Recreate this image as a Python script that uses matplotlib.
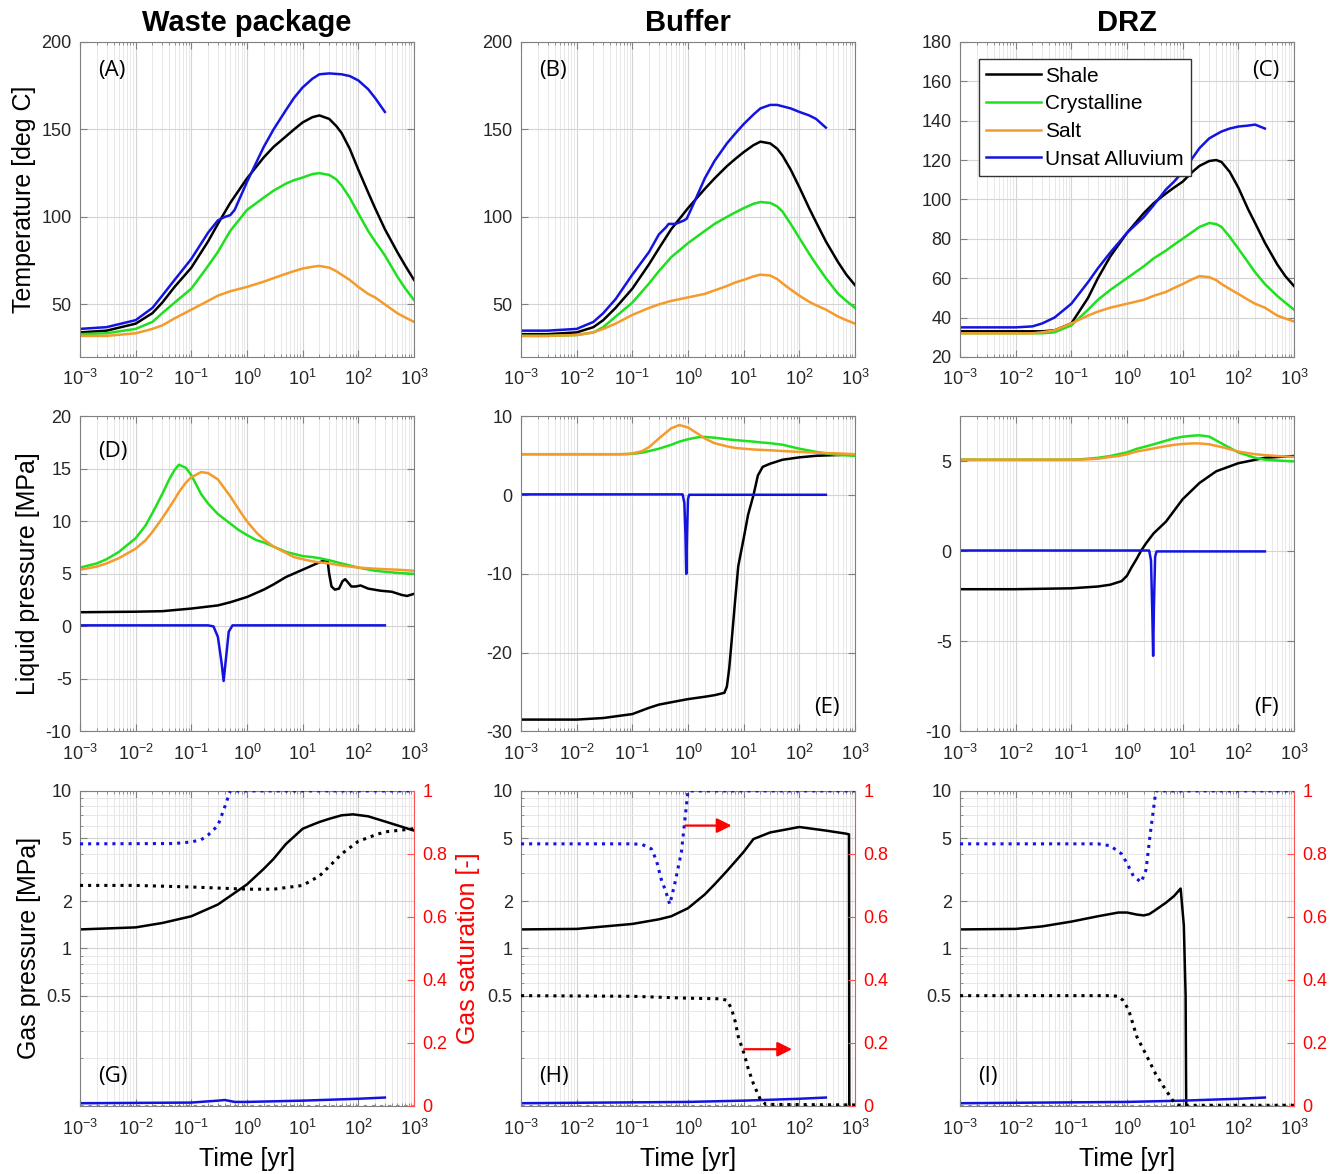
import matplotlib.pyplot as plt
from matplotlib.ticker import FixedLocator, LogLocator, LogFormatterMathtext, NullFormatter, FixedFormatter

plt.rcParams['font.family'] = ['Liberation Sans', 'DejaVu Sans']
plt.rcParams['axes.unicode_minus'] = False

# ---------------- data ----------------
COLS = ['Waste package', 'Buffer', 'DRZ']
XTICKS = [1e-3, 1e-2, 1e-1, 1e0, 1e1, 1e2, 1e3]

# row 1: temperature [deg C]
T1 = [1e-3, 3e-3, 1e-2, 2e-2, 3e-2, 5e-2, 0.1, 0.2, 0.3, 0.5, 1, 2, 3, 5, 7, 10, 15, 20, 30, 40, 50, 70,
      100, 150, 200, 300, 500, 700, 1000]

A_SHALE = [34, 35, 39, 45, 51, 60, 71, 86, 96, 108, 122, 134, 140, 146, 150, 154, 157, 158, 156, 152, 148, 139,
           127, 114, 105, 93, 80, 72, 64]
A_CRYST = [33, 33.5, 36, 40, 45, 51, 59, 72, 80, 92, 104, 111, 115, 119, 121, 122.5, 124.5, 125, 124, 121.5,
           118, 111, 102, 92, 86, 78, 66, 59, 52.5]
A_SALT = [32, 32, 33.5, 36, 38, 42, 47, 52, 55, 57.5, 60, 63, 65, 67.5, 69, 70.5, 71.5, 72, 71, 69, 67, 64, 60,
          56, 54, 50, 45, 42.5, 40]
A_T_ALLU = [1e-3, 3e-3, 1e-2, 2e-2, 3e-2, 5e-2, 0.1, 0.2, 0.3, 0.4, 0.5, 0.6, 1, 2, 3, 5, 7, 10, 15, 20, 30, 50,
            70, 100, 150, 200, 300]
A_ALLU = [36, 37, 41, 48, 55, 64, 76, 91, 98, 100, 101, 104, 120, 140, 150, 161, 168, 174, 179, 181.5, 182,
          181.5, 180.5, 178, 173, 168, 160]

B_SHALE = [33, 33, 34, 37, 41, 48, 59, 73, 82, 93, 105, 116, 122, 129, 133, 137, 141, 143, 142, 139, 135, 127,
           117, 105, 97, 86, 74, 67, 61]
B_CRYST = [32, 32, 32.5, 34, 37, 43, 51, 62, 69, 77, 85, 92, 96, 100, 102.5, 105, 107.5, 108.5, 108, 106, 103,
           96, 88, 79, 73, 65, 56, 52, 48]
B_SALT = [32, 32, 32.5, 34, 36, 39, 44, 48, 50, 52, 54, 56, 58, 60.5, 62.5, 64, 66, 67, 66.5, 64.5, 62, 58.5,
          55, 51.5, 49.5, 47, 43, 41, 39]
B_T_ALLU = [1e-3, 3e-3, 1e-2, 2e-2, 3e-2, 5e-2, 0.1, 0.2, 0.3, 0.4, 0.45, 0.6, 0.85, 0.95, 1.2, 2, 3, 5, 7, 10,
            15, 20, 30, 40, 70, 100, 150, 200, 300]
B_ALLU = [35, 35, 36, 40, 45, 53, 67, 80, 90, 94, 96, 96, 98, 99, 106, 122, 132, 142, 147.5, 153, 158.5, 162,
          164, 164, 162, 160, 158, 156, 151]

C_SHALE = [33, 33, 33, 33, 33, 33.5, 37, 50, 60, 71, 83, 93, 98, 103, 106, 109, 114, 117, 119.5, 120, 119, 114,
           106, 95, 88, 78, 67, 61, 56]
C_CRYST = [32, 32, 32, 32, 32, 32.5, 36, 44, 49, 54, 60, 66, 70, 74, 77, 80, 83.5, 86, 88, 87.5, 86, 81, 75, 68,
           63, 57, 51, 47.5, 44]
C_SALT = [32, 32, 32, 32, 32.5, 33.5, 37, 41, 43, 45, 47, 49, 51, 53, 55, 57, 59.5, 61, 60.5, 59, 57, 54.5, 52,
          49, 47, 45, 41, 39.5, 38]
C_T_ALLU = [1e-3, 3e-3, 1e-2, 2e-2, 3e-2, 5e-2, 0.1, 0.2, 0.3, 0.5, 1, 2, 3, 5, 7, 10, 15, 20, 30, 40, 50, 70,
            100, 150, 200, 300]
C_ALLU = [35, 35, 35, 35.5, 37, 40, 47, 58, 65, 73, 83, 91, 97, 105, 109, 114, 121, 126, 131, 133, 134.5, 136,
          137, 137.5, 138, 136]

# row 2: liquid pressure [MPa]
T2 = [1e-3, 2e-3, 3e-3, 5e-3, 1e-2, 1.5e-2, 2e-2, 3e-2, 4e-2, 5e-2, 6e-2, 8e-2, 0.1, 0.15, 0.2, 0.3, 0.5, 0.7,
      1, 1.5, 2, 3, 5, 7, 10, 15, 20, 30, 50, 100, 200, 300, 500, 1000]

D_CRYST = [5.6, 6.0, 6.4, 7.1, 8.4, 9.6, 10.8, 12.6, 14.0, 14.9, 15.4, 15.1, 14.4, 12.6, 11.7, 10.7, 9.8, 9.2,
           8.7, 8.2, 8.0, 7.6, 7.1, 6.9, 6.7, 6.6, 6.5, 6.3, 6.0, 5.6, 5.3, 5.2, 5.1, 5.0]
D_SALT = [5.4, 5.7, 6.0, 6.5, 7.4, 8.2, 9.0, 10.3, 11.3, 12.1, 12.8, 13.7, 14.2, 14.7, 14.6, 14.0, 12.4, 11.2,
          10.0, 8.9, 8.3, 7.6, 7.0, 6.6, 6.4, 6.2, 6.1, 6.0, 5.8, 5.6, 5.5, 5.45, 5.4, 5.3]
D_T_SHALE = [1e-3, 1e-2, 3e-2, 0.1, 0.3, 0.5, 1, 2, 3, 5, 10, 20, 25, 28, 30, 33, 38, 45, 52, 58, 65, 75, 90,
             110, 150, 250, 400, 600, 750, 1000]
D_SHALE = [1.35, 1.4, 1.45, 1.7, 2.0, 2.3, 2.8, 3.5, 4.0, 4.7, 5.4, 6.1, 6.3, 6.25, 5.0, 3.8, 3.5, 3.6, 4.3, 4.5,
           4.2, 3.8, 3.8, 3.9, 3.6, 3.4, 3.3, 3.0, 2.9, 3.1]
D_T_ALLU = [1e-3, 0.2, 0.25, 0.3, 0.35, 0.38, 0.42, 0.47, 0.55, 300]
D_ALLU = [0.1, 0.1, 0.0, -1.0, -3.5, -5.2, -3.0, -0.5, 0.1, 0.1]

E_CRYST = [5.2, 5.2, 5.2, 5.2, 5.2, 5.2, 5.2, 5.2, 5.2, 5.2, 5.2, 5.22, 5.25, 5.4, 5.6, 5.9, 6.4, 6.8, 7.1,
           7.35, 7.4, 7.3, 7.1, 7.0, 6.9, 6.8, 6.7, 6.6, 6.4, 5.9, 5.5, 5.3, 5.1, 5.0]
E_SALT = [5.2, 5.2, 5.2, 5.2, 5.2, 5.2, 5.2, 5.2, 5.2, 5.2, 5.2, 5.22, 5.3, 5.6, 6.1, 7.2, 8.5, 8.9, 8.6, 7.8,
          7.2, 6.6, 6.2, 6.0, 5.9, 5.8, 5.75, 5.7, 5.6, 5.5, 5.4, 5.35, 5.3, 5.2]
E_T_SHALE = [1e-3, 1e-2, 3e-2, 0.1, 0.2, 0.3, 0.5, 1, 2, 3, 4.5, 5, 5.5, 6, 7, 8, 10, 12, 15, 18, 22, 30, 50,
             100, 200, 500, 1000]
E_SHALE = [-28.5, -28.5, -28.3, -27.8, -27.0, -26.6, -26.3, -25.9, -25.6, -25.4, -25.1, -24.3, -22, -19, -13.5,
           -9, -5.5, -2.5, 0, 2.5, 3.6, 4.0, 4.5, 4.8, 5.0, 5.1, 5.2]
E_T_ALLU = [1e-3, 0.8, 0.86, 0.9, 0.93, 0.96, 1.0, 1.05, 300]
E_ALLU = [0.1, 0.1, -1, -5, -10, -5, -0.5, 0.05, 0.05]

F_CRYST = [5.1, 5.1, 5.1, 5.1, 5.1, 5.1, 5.1, 5.1, 5.1, 5.1, 5.1, 5.1, 5.1, 5.12, 5.15, 5.2, 5.3, 5.4, 5.5,
           5.7, 5.8, 5.95, 6.15, 6.28, 6.37, 6.43, 6.45, 6.38, 6.0, 5.5, 5.2, 5.1, 5.05, 5.0]
F_SALT = [5.1, 5.1, 5.1, 5.1, 5.1, 5.1, 5.1, 5.1, 5.1, 5.1, 5.1, 5.1, 5.1, 5.1, 5.12, 5.15, 5.25, 5.3, 5.4,
          5.55, 5.62, 5.72, 5.85, 5.92, 5.97, 6.0, 6.0, 5.95, 5.8, 5.55, 5.4, 5.35, 5.3, 5.25]
F_T_SHALE = [1e-3, 1e-2, 0.1, 0.3, 0.5, 0.8, 1, 1.2, 1.5, 1.8, 2.2, 3, 5, 10, 20, 40, 100, 300, 1000]
F_SHALE = [-2.1, -2.1, -2.05, -1.95, -1.85, -1.65, -1.35, -0.9, -0.4, 0.05, 0.45, 1.0, 1.65, 2.9, 3.8, 4.45,
           4.9, 5.2, 5.3]
F_T_ALLU = [1e-3, 2.5, 2.7, 2.85, 2.95, 3.05, 3.2, 3.4, 300]
F_ALLU = [0.05, 0.05, -0.5, -3.5, -5.8, -3.0, -0.3, 0.0, 0.0]

# row 3: gas pressure [MPa] (solid) and gas saturation [-] (dotted)
G_T_SHALE = [1e-3, 1e-2, 3e-2, 0.1, 0.3, 1, 2, 3, 5, 10, 15, 20, 30, 50, 80, 150, 300, 1000]
G_SHALE = [1.32, 1.36, 1.45, 1.6, 1.9, 2.55, 3.2, 3.7, 4.6, 5.75, 6.1, 6.35, 6.65, 7.0, 7.1, 6.9, 6.4, 5.6]
G_T_SHALE_SG = [1e-3, 1e-2, 0.1, 1, 3, 10, 20, 30, 50, 100, 200, 300, 1000]
G_SHALE_SG = [0.70, 0.70, 0.695, 0.688, 0.688, 0.70, 0.73, 0.76, 0.80, 0.84, 0.86, 0.87, 0.88]
G_T_ALLU = [1e-3, 0.1, 0.3, 0.4, 0.6, 1, 10, 100, 300]
G_ALLU = [0.104, 0.105, 0.108, 0.109, 0.106, 0.106, 0.108, 0.111, 0.113]
G_T_ALLU_SG = [1e-3, 0.05, 0.1, 0.15, 0.2, 0.3, 0.4, 0.5, 1000]
G_ALLU_SG = [0.832, 0.833, 0.838, 0.845, 0.86, 0.89, 0.95, 1.0, 1.0]

H_T_SHALE = [1e-3, 1e-2, 0.1, 0.3, 0.5, 1, 2, 3, 5, 10, 15, 20, 30, 100, 300, 700, 780, 790]
H_SHALE = [1.32, 1.33, 1.43, 1.53, 1.6, 1.8, 2.2, 2.55, 3.1, 4.1, 4.95, 5.15, 5.45, 5.9, 5.6, 5.35, 5.3, 0.09]
H_T_SHALE_SG = [1e-3, 0.1, 1, 4, 5, 6, 7, 8, 10, 12, 15, 20, 25, 1000]
H_SHALE_SG = [0.35, 0.348, 0.342, 0.34, 0.335, 0.31, 0.27, 0.22, 0.17, 0.12, 0.07, 0.02, 0.005, 0.003]
H_T_ALLU = [1e-3, 1, 10, 100, 300]
H_ALLU = [0.104, 0.106, 0.108, 0.111, 0.113]
H_T_ALLU_SG = [1e-3, 0.1, 0.15, 0.22, 0.27, 0.33, 0.4, 0.47, 0.57, 0.76, 1.0, 1000]
H_ALLU_SG = [0.832, 0.832, 0.83, 0.816, 0.78, 0.72, 0.68, 0.64, 0.70, 0.805, 1.0, 1.0]

I_T_SHALE = [1e-3, 1e-2, 3e-2, 0.1, 0.3, 0.7, 1, 1.5, 2, 2.5, 3, 5, 7, 9.2, 10.5, 11.3, 11.6]
I_SHALE = [1.32, 1.33, 1.38, 1.48, 1.6, 1.69, 1.69, 1.64, 1.62, 1.65, 1.72, 1.95, 2.15, 2.4, 1.4, 0.5, 0.09]
I_T_SHALE_SG = [1e-3, 0.1, 0.5, 0.7, 0.85, 1.07, 1.5, 2.3, 3.3, 4.6, 6.9, 8.5, 1000]
I_SHALE_SG = [0.35, 0.35, 0.35, 0.348, 0.335, 0.305, 0.22, 0.156, 0.10, 0.06, 0.013, 0.002, 0.002]
I_T_ALLU = [1e-3, 1, 10, 100, 300]
I_ALLU = [0.104, 0.106, 0.108, 0.111, 0.113]
I_T_ALLU_SG = [1e-3, 0.3, 0.5, 0.8, 1.0, 1.3, 1.8, 2.2, 2.6, 3.3, 1000]
I_ALLU_SG = [0.832, 0.832, 0.826, 0.80, 0.77, 0.73, 0.71, 0.75, 0.86, 1.0, 1.0]

# salt / crystalline stay fully saturated (gas saturation 0)
T_ZERO = [1e-3, 1e3]
SG_ZERO = [0, 0]

COLOR = {'Shale': 'black', 'Crystalline': '#1fe01f', 'Salt': '#f59a2c', 'Unsat Alluvium': '#1414e0'}
TXT = '#262626'
EDGE = '#808080'


def style_x(ax):
    ax.set_xscale('log')
    ax.set_xlim(1e-3, 1e3)
    ax.xaxis.set_major_locator(FixedLocator(XTICKS))
    ax.xaxis.set_major_formatter(LogFormatterMathtext())
    ax.xaxis.set_minor_locator(LogLocator(base=10, subs=range(2, 10), numticks=50))
    ax.xaxis.set_minor_formatter(NullFormatter())
    ax.grid(True, which='major', color='#d4d4d4', lw=0.8)
    ax.grid(True, which='minor', axis='x', color='#e4e4e4', lw=0.6)
    ax.set_axisbelow(True)
    for s in ax.spines.values():
        s.set_color(EDGE)
    ax.tick_params(which='both', direction='in', top=True, right=True, colors=EDGE,
                   labelcolor=TXT, labelsize=13)
    ax.tick_params(which='major', length=5)
    ax.tick_params(which='minor', length=2.5)
    ax.tick_params(axis='x', pad=9)
    ax.tick_params(axis='y', pad=6)


def panel_tag(ax, s, x, y, ha='left'):
    ax.text(x, y, s, transform=ax.transAxes, ha=ha, va='center', fontsize=16,
            family=['Open Sans', 'DejaVu Sans'], color='black')


fig = plt.figure(figsize=(13.38, 11.74), dpi=100)
lefts = [0.0598, 0.3894, 0.7175]
bottoms = [0.696, 0.377, 0.058]
W, H = 0.2496, 0.2683

# ---------- row 1 : temperature ----------
temp = [(A_SHALE, A_CRYST, A_SALT, A_T_ALLU, A_ALLU),
        (B_SHALE, B_CRYST, B_SALT, B_T_ALLU, B_ALLU),
        (C_SHALE, C_CRYST, C_SALT, C_T_ALLU, C_ALLU)]
for j, (sh, cr, sa, tal, al) in enumerate(temp):
    ax = fig.add_axes([lefts[j], bottoms[0], W, H])
    style_x(ax)
    ax.plot(T1, sh, color=COLOR['Shale'], lw=1.8, label='Shale')
    ax.plot(T1, cr, color=COLOR['Crystalline'], lw=1.8, label='Crystalline')
    ax.plot(T1, sa, color=COLOR['Salt'], lw=1.8, label='Salt')
    ax.plot(tal, al, color=COLOR['Unsat Alluvium'], lw=1.8, label='Unsat Alluvium')
    if j < 2:
        ax.set_ylim(20, 200)
        ax.set_yticks([50, 100, 150, 200])
    else:
        ax.set_ylim(20, 180)
        ax.set_yticks(range(20, 181, 20))
    ax.set_title(COLS[j], fontsize=21, fontweight='bold', pad=8)
    if j == 0:
        ax.set_ylabel('Temperature [deg C]', fontsize=18, labelpad=4)
    if j == 2:
        panel_tag(ax, '(C)', 0.955, 0.91, ha='right')
        leg = ax.legend(loc='upper left', bbox_to_anchor=(0.057, 0.945), borderaxespad=0,
                        fontsize=15, handlelength=2.6, handletextpad=0.2, labelspacing=0.42,
                        fancybox=False, framealpha=1, edgecolor='#333333', borderpad=0.35)
        leg.get_frame().set_linewidth(1.0)
    else:
        panel_tag(ax, '(A)' if j == 0 else '(B)', 0.054, 0.91)

# ---------- row 2 : liquid pressure ----------
liq = [(D_T_SHALE, D_SHALE, D_CRYST, D_SALT, D_T_ALLU, D_ALLU),
       (E_T_SHALE, E_SHALE, E_CRYST, E_SALT, E_T_ALLU, E_ALLU),
       (F_T_SHALE, F_SHALE, F_CRYST, F_SALT, F_T_ALLU, F_ALLU)]
ylims2 = [(-10, 20), (-30, 10), (-10, 7.5)]
yticks2 = [range(-10, 21, 5), range(-30, 11, 10), [-10, -5, 0, 5]]
for j, (tsh, sh, cr, sa, tal, al) in enumerate(liq):
    ax = fig.add_axes([lefts[j], bottoms[1], W, H])
    style_x(ax)
    ax.plot(tsh, sh, color=COLOR['Shale'], lw=1.8)
    ax.plot(T2, cr, color=COLOR['Crystalline'], lw=1.8)
    ax.plot(T2, sa, color=COLOR['Salt'], lw=1.8)
    ax.plot(tal, al, color=COLOR['Unsat Alluvium'], lw=1.8)
    ax.set_ylim(*ylims2[j])
    ax.set_yticks(list(yticks2[j]))
    if j == 0:
        ax.set_ylabel('Liquid pressure [MPa]', fontsize=18, labelpad=4)
        panel_tag(ax, '(D)', 0.054, 0.89)
    else:
        panel_tag(ax, '(E)' if j == 1 else '(F)', 0.955, 0.075, ha='right')

# ---------- row 3 : gas pressure + gas saturation ----------
gas = [(G_T_SHALE, G_SHALE, G_T_SHALE_SG, G_SHALE_SG, G_T_ALLU, G_ALLU, G_T_ALLU_SG, G_ALLU_SG),
       (H_T_SHALE, H_SHALE, H_T_SHALE_SG, H_SHALE_SG, H_T_ALLU, H_ALLU, H_T_ALLU_SG, H_ALLU_SG),
       (I_T_SHALE, I_SHALE, I_T_SHALE_SG, I_SHALE_SG, I_T_ALLU, I_ALLU, I_T_ALLU_SG, I_ALLU_SG)]
tags3 = ['(G)', '(H)', '(I)']
for j, (tsh, sh, tshs, shs, tal, al, tals, als) in enumerate(gas):
    ax = fig.add_axes([lefts[j], bottoms[2], W, H])
    style_x(ax)
    ax.set_yscale('log')
    ax.set_ylim(0.1, 10)
    ax.yaxis.set_major_locator(FixedLocator([0.5, 1, 2, 5, 10]))
    ax.yaxis.set_major_formatter(FixedFormatter(['0.5', '1', '2', '5', '10']))
    ax.yaxis.set_minor_locator(LogLocator(base=10, subs=range(2, 10), numticks=50))
    ax.yaxis.set_minor_formatter(NullFormatter())
    ax.grid(True, which='minor', axis='y', color='#e4e4e4', lw=0.6)
    ax.tick_params(which='both', right=False)
    ax.spines['right'].set_visible(False)
    ax.plot(tsh, sh, color=COLOR['Shale'], lw=1.8)
    ax.plot(tal, al, color=COLOR['Unsat Alluvium'], lw=1.8)
    ax.set_xlabel('Time [yr]', fontsize=18, labelpad=6)

    ax2 = ax.twinx()
    ax2.set_ylim(0, 1)
    ax2.set_yticks([0, 0.2, 0.4, 0.6, 0.8, 1])
    ax2.set_yticklabels(['0', '0.2', '0.4', '0.6', '0.8', '1'])
    ax2.plot(T_ZERO, SG_ZERO, ls=':', color=COLOR['Crystalline'], lw=2.2)
    ax2.plot(T_ZERO, SG_ZERO, ls=':', color='#b08a4a', lw=2.2)
    ax2.plot(tshs, shs, ls=':', color=COLOR['Shale'], lw=2.2)
    ax2.plot(tals, als, ls=':', color=COLOR['Unsat Alluvium'], lw=2.2)
    for s in ['left', 'top', 'bottom']:
        ax2.spines[s].set_visible(False)
    ax2.spines['right'].set_color('#ff5050')
    ax2.tick_params(axis='y', which='both', direction='in', colors='#ff5050', labelcolor='red',
                    labelsize=13, length=5, pad=6)
    if j == 0:
        ax.set_ylabel('Gas pressure [MPa]', fontsize=18, labelpad=4)
        ax2.set_ylabel('Gas saturation [-]', fontsize=18, color='red', labelpad=6)
    if j == 1:
        ax2.annotate('', xy=(6.8, 0.89), xytext=(0.8, 0.89),
                     arrowprops=dict(arrowstyle='-|>', color='red', lw=1.6, mutation_scale=22))
        ax2.annotate('', xy=(83, 0.18), xytext=(9.1, 0.18),
                     arrowprops=dict(arrowstyle='-|>', color='red', lw=1.6, mutation_scale=22))
    panel_tag(ax, tags3[j], 0.054, 0.092)

fig.savefig('out.png', dpi=100, facecolor='white')
